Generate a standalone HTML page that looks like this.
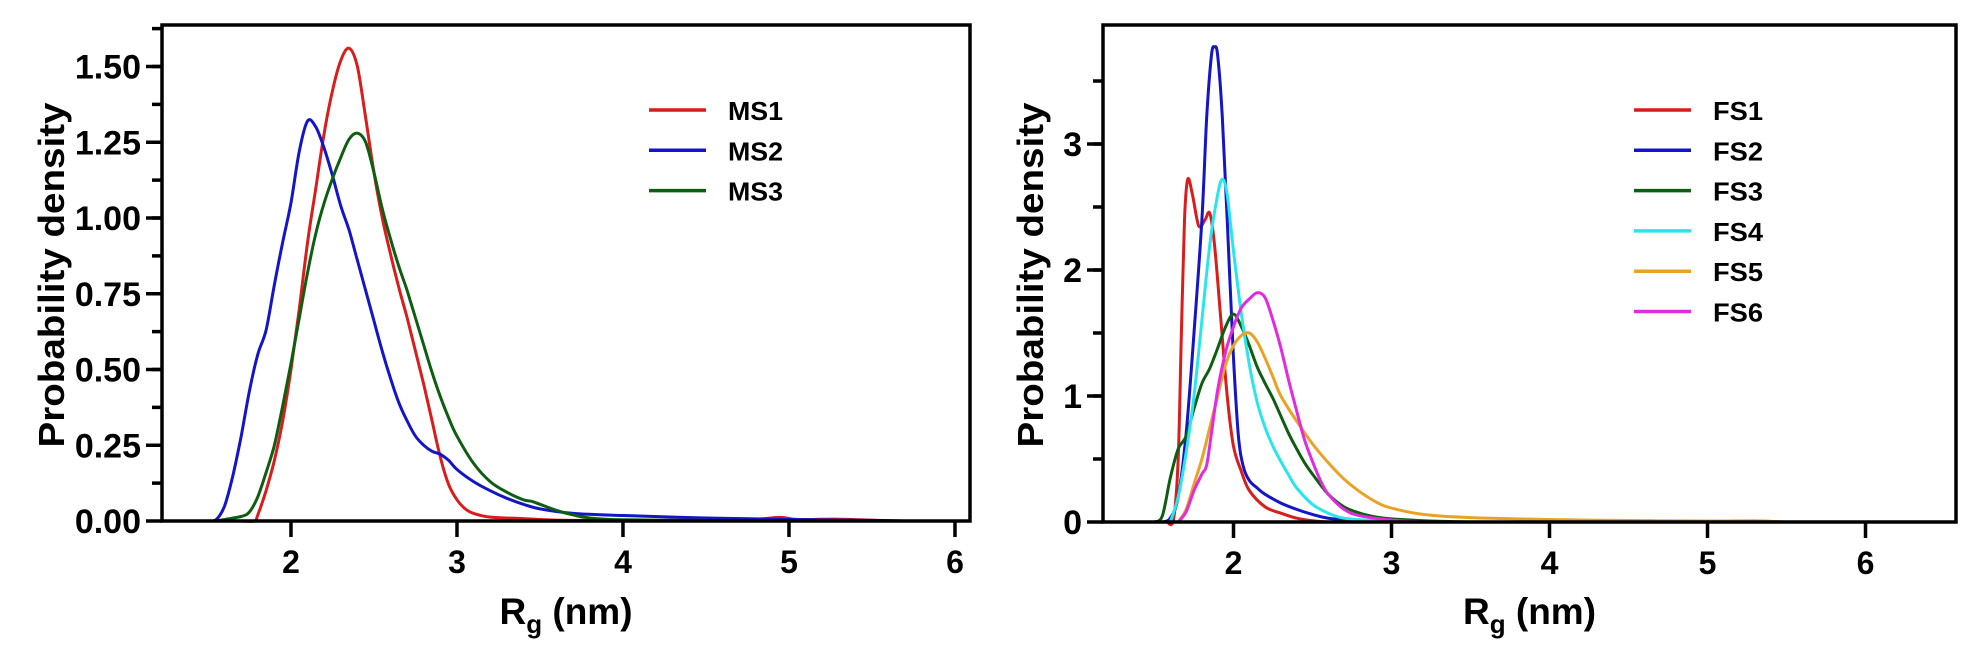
<!DOCTYPE html>
<html><head><meta charset="utf-8"><style>
html,body{margin:0;padding:0;background:#fff;}
svg{display:block;font-family:"Liberation Sans",Arial,sans-serif;font-weight:bold;}
</style></head><body>
<svg id="fig" width="1980" height="660" viewBox="0 0 1980 660"></svg>
<script>
// ---- Left panel data ----
const msNames = ["MS1","MS2","MS3"];
const ms1X = [1.7,1.78,1.8,1.85,1.9,1.95,2.0,2.05,2.1,2.15,2.2,2.25,2.3,2.35,2.4,2.45,2.5,2.55,2.6,2.65,2.7,2.75,2.8,2.85,2.9,2.95,3.0,3.05,3.1,3.2,3.4,3.6,4.0,4.5,4.8,4.95,5.05,5.3,5.6];
const ms1Y = [0,0,0.02,0.1,0.2,0.33,0.5,0.7,0.92,1.1,1.28,1.42,1.52,1.56,1.5,1.33,1.15,1.0,0.88,0.77,0.67,0.56,0.45,0.33,0.21,0.12,0.07,0.04,0.025,0.013,0.008,0.003,0.002,0.003,0.006,0.012,0.005,0.006,0.001];
const ms2X = [1.5,1.55,1.6,1.65,1.7,1.75,1.8,1.85,1.9,1.95,2.0,2.05,2.1,2.15,2.2,2.25,2.3,2.35,2.4,2.45,2.5,2.55,2.6,2.65,2.7,2.75,2.8,2.85,2.9,2.95,3.0,3.1,3.2,3.3,3.4,3.5,3.7,4.0,4.5,5.0,5.5,5.7];
const ms2Y = [0,0.005,0.05,0.15,0.28,0.43,0.55,0.63,0.78,0.92,1.05,1.22,1.32,1.3,1.23,1.14,1.04,0.96,0.86,0.76,0.66,0.56,0.47,0.39,0.33,0.28,0.25,0.23,0.22,0.2,0.17,0.13,0.1,0.075,0.055,0.04,0.025,0.018,0.01,0.005,0.002,0];
const ms3X = [1.55,1.6,1.7,1.75,1.8,1.85,1.9,1.95,2.0,2.05,2.1,2.15,2.2,2.25,2.3,2.35,2.4,2.45,2.5,2.55,2.6,2.65,2.7,2.75,2.8,2.85,2.9,2.95,3.0,3.1,3.2,3.3,3.4,3.45,3.5,3.6,3.7,3.8,4.0,4.5];
const ms3Y = [0,0.005,0.015,0.03,0.08,0.16,0.25,0.38,0.52,0.67,0.82,0.95,1.05,1.13,1.2,1.26,1.28,1.25,1.15,1.03,0.93,0.84,0.76,0.67,0.58,0.49,0.41,0.34,0.28,0.19,0.13,0.095,0.07,0.065,0.055,0.035,0.02,0.01,0.004,0.002];
const msTicksX = [2,3,4,5,6];
const msTicksY = ["0.00","0.25","0.50","0.75","1.00","1.25","1.50"];
// ---- Right panel data ----
const fsNames = ["FS1","FS2","FS3","FS4","FS5","FS6"];
const fs1X = [1.58,1.62,1.65,1.67,1.69,1.71,1.74,1.78,1.82,1.85,1.88,1.92,1.96,2.0,2.05,2.1,2.2,2.3,2.4,2.5,2.6];
const fs1Y = [0,0.02,0.5,1.5,2.4,2.72,2.6,2.35,2.4,2.45,2.2,1.6,1.0,0.6,0.4,0.25,0.12,0.07,0.03,0.01,0];
const fs2X = [1.55,1.6,1.65,1.7,1.75,1.8,1.83,1.86,1.88,1.9,1.93,1.96,2.0,2.03,2.06,2.1,2.15,2.2,2.3,2.4,2.5,2.6,2.8,3.0];
const fs2Y = [0,0.03,0.2,0.7,1.5,2.4,3.2,3.7,3.77,3.7,3.2,2.4,1.3,0.7,0.45,0.33,0.27,0.22,0.15,0.1,0.06,0.03,0.01,0.003];
const fs3X = [1.5,1.55,1.6,1.65,1.7,1.75,1.8,1.85,1.9,1.95,2.0,2.05,2.1,2.15,2.2,2.25,2.3,2.35,2.4,2.45,2.5,2.6,2.7,2.8,2.9,3.0,3.2,3.5];
const fs3Y = [0,0.05,0.35,0.58,0.68,0.9,1.1,1.22,1.38,1.55,1.65,1.55,1.4,1.23,1.1,0.98,0.84,0.7,0.58,0.47,0.38,0.22,0.12,0.07,0.04,0.025,0.01,0];
const fs4X = [1.6,1.65,1.7,1.75,1.8,1.85,1.9,1.93,1.96,2.0,2.05,2.1,2.15,2.2,2.25,2.3,2.35,2.4,2.5,2.6,2.7,2.9,3.1];
const fs4Y = [0,0.2,0.55,1.0,1.6,2.2,2.6,2.72,2.6,2.15,1.65,1.25,0.95,0.75,0.6,0.48,0.37,0.27,0.14,0.07,0.03,0.01,0];
const fs5X = [1.65,1.7,1.75,1.8,1.85,1.9,1.95,2.0,2.05,2.1,2.15,2.2,2.25,2.3,2.4,2.5,2.6,2.7,2.8,2.9,3.0,3.2,3.5,4.0,4.5,5.0,5.3,5.5];
const fs5Y = [0,0.1,0.3,0.5,0.75,1.0,1.25,1.4,1.48,1.5,1.43,1.3,1.15,1.0,0.8,0.62,0.47,0.34,0.24,0.16,0.11,0.06,0.035,0.02,0.012,0.008,0.01,0];
const fs6X = [1.65,1.7,1.75,1.8,1.83,1.86,1.9,1.95,2.0,2.05,2.1,2.15,2.2,2.25,2.3,2.35,2.4,2.45,2.5,2.55,2.6,2.7,2.8,3.0,3.2];
const fs6Y = [0,0.08,0.25,0.38,0.45,0.7,1.05,1.35,1.55,1.7,1.77,1.82,1.78,1.6,1.38,1.12,0.88,0.65,0.48,0.33,0.22,0.1,0.05,0.015,0];
const fsTicksX = [2,3,4,5,6];
const fsTicksY = ["0","1","2","3"];

const NS="http://www.w3.org/2000/svg";
const svg=document.getElementById('fig');
function mk(tag,attrs,parent){const e=document.createElementNS(NS,tag);for(const k in attrs)e.setAttribute(k,attrs[k]);(parent||svg).appendChild(e);return e;}
function smooth(pts){
  let d="M"+pts[0][0].toFixed(1)+","+pts[0][1].toFixed(1);
  for(let i=0;i<pts.length-1;i++){
    const p0=pts[Math.max(0,i-1)],p1=pts[i],p2=pts[i+1],p3=pts[Math.min(pts.length-1,i+2)];
    const c1=[p1[0]+(p2[0]-p0[0])/6,p1[1]+(p2[1]-p0[1])/6];
    const c2=[p2[0]-(p3[0]-p1[0])/6,p2[1]-(p3[1]-p1[1])/6];
    d+="C"+c1[0].toFixed(1)+","+c1[1].toFixed(1)+" "+c2[0].toFixed(1)+","+c2[1].toFixed(1)+" "+p2[0].toFixed(1)+","+p2[1].toFixed(1);
  }
  return d;
}
function panel(cfg){
  const g=mk('g',{});
  
  
  const sx=v=>cfg.L+(v-cfg.xmin)/(cfg.xmax-cfg.xmin)*(cfg.R-cfg.L);
  const sy=v=>cfg.B-(v-cfg.ymin)/(cfg.ymax-cfg.ymin)*(cfg.B-cfg.T);
  cfg.series.forEach((s,i)=>{
    const pts=s.x.map((xv,j)=>[sx(xv),sy(s.y[j])]);
    const p=mk('path',{d:smooth(pts),fill:'none',stroke:s.color,'stroke-width':3,'stroke-linejoin':'round'},g);
    
    
  });
  const fr=mk('rect',{x:cfg.L,y:cfg.T,width:cfg.R-cfg.L,height:cfg.B-cfg.T,fill:'none',stroke:'#000','stroke-width':3.5},g);
  
  
  cfg.xticks.forEach(t=>{
    const x=sx(t);
    mk('line',{x1:x,x2:x,y1:cfg.B,y2:cfg.B+16,stroke:'#000','stroke-width':3.5},g);
    const tx=mk('text',{x:x,y:cfg.B+52,'text-anchor':'middle','font-size':32},g);
    tx.textContent=t;
    
    
  });
  cfg.yticks.forEach(t=>{
    const y=sy(parseFloat(t));
    mk('line',{x1:cfg.L-16,x2:cfg.L,y1:y,y2:y,stroke:'#000','stroke-width':3.5},g);
    const tx=mk('text',{x:cfg.L-21,y:y+12,'text-anchor':'end','font-size':34},g);
    tx.textContent=t;
    
    
  });
  for(let v=cfg.ymin+cfg.minor;v<cfg.ymax;v+=cfg.minor){
    const y=sy(v);
    mk('line',{x1:cfg.L-10,x2:cfg.L,y1:y,y2:y,stroke:'#000','stroke-width':3.5},g);
  }
  const xt=mk('text',{x:(cfg.L+cfg.R)/2,y:624,'text-anchor':'middle','font-size':37},g);
  xt.innerHTML='R<tspan font-size="26" dy="9">g</tspan><tspan dy="-9"> (nm)</tspan>';
  
  
  const yt=mk('text',{x:0,y:0,'text-anchor':'middle','font-size':36,transform:'translate('+cfg.ytx+',275) rotate(-90)',textLength:345,lengthAdjust:'spacingAndGlyphs'},g);
  yt.textContent='Probability density';
  
  
  cfg.series.forEach((s,i)=>{
    const y=110+i*40.3;
    const lg=mk('g',{},g);
    
    
    mk('line',{x1:cfg.legX,x2:cfg.legX+57,y1:y,y2:y,stroke:s.color,'stroke-width':3.5},lg);
    const t=mk('text',{x:cfg.legX+79,y:y+10,'font-size':26,textLength:cfg.legW,lengthAdjust:'spacingAndGlyphs'},lg);
    t.textContent=s.label;
  });
}
panel({name:'ms-panel',L:162,R:970,T:25,B:521,xmin:1.223,xmax:1.223+808/166,ymin:0,ymax:496/303,minor:0.125,
  xticks:msTicksX,yticks:msTicksY,ytx:64,legX:649,legW:55,
  series:[{label:msNames[0],x:ms1X,y:ms1Y,color:'#d91c1c'},{label:msNames[1],x:ms2X,y:ms2Y,color:'#1414c8'},{label:msNames[2],x:ms3X,y:ms3Y,color:'#0e5e12'}]});
panel({name:'fs-panel',L:1103,R:1956,T:25,B:522,xmin:1.174,xmax:1.174+853/158,ymin:0,ymax:497/126,minor:0.5,
  xticks:fsTicksX,yticks:fsTicksY,ytx:1043,legX:1634,legW:50,
  series:[{label:fsNames[0],x:fs1X,y:fs1Y,color:'#d91c1c'},{label:fsNames[1],x:fs2X,y:fs2Y,color:'#1414c8'},{label:fsNames[2],x:fs3X,y:fs3Y,color:'#0e5e12'},{label:fsNames[3],x:fs4X,y:fs4Y,color:'#28e6ea'},{label:fsNames[4],x:fs5X,y:fs5Y,color:'#eaa224'},{label:fsNames[5],x:fs6X,y:fs6Y,color:'#e22ae2'}]});
</script>
</body></html>
